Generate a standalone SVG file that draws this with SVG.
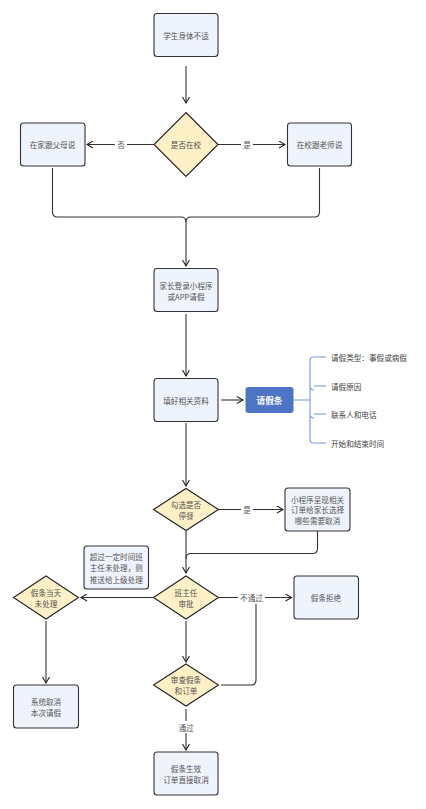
<svg xmlns="http://www.w3.org/2000/svg" width="426" height="809" viewBox="0 0 426 809">
<style>
text{font-family:"Noto Sans CJK SC","Noto Sans",sans-serif;font-size:7.6px;fill:#555;text-anchor:middle;dominant-baseline:central}
.n{fill:#eef3fd;stroke:#333;stroke-width:1.1}
.d{fill:#fdefc6;stroke:#222;stroke-width:1.1}
.c{fill:none;stroke:#333;stroke-width:1.1}
.b{fill:none;stroke:#6f9be0;stroke-width:1.1}
.lb{fill:#fff}
.lt{text-anchor:start;fill:#444}
</style>
<defs>
<marker id="a" viewBox="0 0 8 8" refX="7" refY="4" markerWidth="8" markerHeight="8" markerUnits="userSpaceOnUse" orient="auto">
<path d="M1,0.5 L7,4 L1,7.5" fill="none" stroke="#222" stroke-width="1.1"/>
</marker>
</defs>
<rect width="426" height="809" fill="#fff"/>
<g id="connectors">
<path class="c" d="M186,66 V103" marker-end="url(#a)"/>
<path class="c" d="M154,144.5 H87" marker-end="url(#a)"/>
<path class="c" d="M218,144.5 H285" marker-end="url(#a)"/>
<path class="c" d="M52.5,168 V212 Q52.5,217 57.5,217 H181 Q186,217 186,222"/>
<path class="c" d="M319.5,168 V212 Q319.5,217 314.5,217 H191 Q186,217 186,222 V266" marker-end="url(#a)"/>
<path class="c" d="M186,314 V376" marker-end="url(#a)"/>
<path class="c" d="M221,400 H243" marker-end="url(#a)"/>
<path class="c" d="M186,423 V486" marker-end="url(#a)"/>
<path class="c" d="M218,509.5 H283" marker-end="url(#a)"/>
<path class="c" d="M186,531 V573" marker-end="url(#a)"/>
<path class="c" d="M317.5,531 V548.5 Q317.5,553.5 312.5,553.5 H191 Q186,553.5 186,558.5"/>
<path class="c" d="M154,597.5 H81" marker-end="url(#a)"/>
<path class="c" d="M218,597.5 H291.5" marker-end="url(#a)"/>
<path class="c" d="M221,685 H251 Q256,685 256,680 V604"/>
<path class="c" d="M186,621 V662" marker-end="url(#a)"/>
<path class="c" d="M186,709 V750" marker-end="url(#a)"/>
<path class="c" d="M46,621 V683" marker-end="url(#a)"/>
<path class="b" d="M293,400 H310 M326,357 H314 Q310,357 310,361 V439 Q310,443 314,443 H326 M310,386 Q310,390 314,390 M310,414 Q310,418 314,418"/>
<path class="b" d="M314,386 H326 M314,414 H326"/>
<rect class="lb" x="115" y="139" width="12" height="11"/>
<text x="121" y="144.5">否</text>
<rect class="lb" x="241" y="139" width="12" height="11"/>
<text x="247" y="144.5">是</text>
<rect class="lb" x="241" y="504" width="12" height="11"/>
<text x="247" y="509.5">是</text>
<rect class="lb" x="238" y="592" width="27" height="11"/>
<text x="251.5" y="597.5">不通过</text>
<rect class="lb" x="176" y="721" width="20" height="12"/>
<text x="186" y="727">通过</text>
</g>
<g id="n1"><rect class="n" x="154" y="13.5" width="64" height="43" rx="3"/><text x="186" y="35">学生身体不适</text></g>
<g id="d1"><path class="d" d="M186,112.5 L218,144.5 L186,176.5 L154,144.5 Z"/><text x="186" y="144.5">是否在校</text></g>
<g id="n2"><rect class="n" x="20.5" y="123" width="64.5" height="43" rx="3"/><text x="52.5" y="144.5">在家跟父母说</text></g>
<g id="n3"><rect class="n" x="287.5" y="123" width="64" height="43" rx="3"/><text x="319.5" y="144.5">在校跟老师说</text></g>
<g id="n4"><rect class="n" x="154" y="268.5" width="64" height="43" rx="3"/><text x="186" y="285.5">家长登录小程序</text><text x="186" y="296.5">或APP请假</text></g>
<g id="n5"><rect class="n" x="154" y="378.5" width="64" height="43" rx="3"/><text x="186" y="400">填好相关资料</text></g>
<g id="n6"><rect x="245.5" y="387" width="48" height="26" rx="3" fill="#4e74c6"/><text x="269.5" y="400" style="fill:#fff;font-weight:bold;font-size:8.6px">请假条</text></g>
<g id="items">
<text class="lt" x="331" y="357">请假类型：事假或病假</text>
<text class="lt" x="331" y="386">请假原因</text>
<text class="lt" x="331" y="414.5">联系人和电话</text>
<text class="lt" x="331" y="443">开始和结束时间</text>
</g>
<g id="d2"><path class="d" d="M186,488.5 L218.5,509.5 L186,530.5 L153.5,509.5 Z"/><text x="186" y="504">勾选是否</text><text x="186" y="515">停餐</text></g>
<g id="n7"><rect class="n" x="285" y="488" width="65" height="43" rx="3"/><text x="317.5" y="499">小程序呈现相关</text><text x="317.5" y="509.7">订单给家长选择</text><text x="317.5" y="520.7">哪些需要取消</text></g>
<g id="note"><rect class="n" x="84" y="546" width="64.5" height="43" rx="3"/><text x="116.3" y="556.7">超过一定时间班</text><text x="116.3" y="567.7">主任未处理，则</text><text x="116.3" y="579">推送给上级处理</text></g>
<g id="d3"><path class="d" d="M186,576 L218.5,597.5 L186,619 L153.5,597.5 Z"/><text x="186" y="592">班主任</text><text x="186" y="603">审批</text></g>
<g id="d4"><path class="d" d="M46,576 L78.5,597.5 L46,619 L13.5,597.5 Z"/><text x="46" y="592">假条当天</text><text x="46" y="603">未处理</text></g>
<g id="n8"><rect class="n" x="294" y="576" width="64.5" height="43" rx="3"/><text x="326" y="597.5">假条拒绝</text></g>
<g id="d5"><path class="d" d="M186,664 L218.5,685 L186,706 L153.5,685 Z"/><text x="186" y="679.5">审查假条</text><text x="186" y="690.5">和订单</text></g>
<g id="n9"><rect class="n" x="13.5" y="685" width="65" height="43" rx="3"/><text x="46" y="701">系统取消</text><text x="46" y="712">本次请假</text></g>
<g id="n10"><rect class="n" x="154" y="752" width="64" height="43" rx="3"/><text x="186" y="768">假条生效</text><text x="186" y="779">订单直接取消</text></g>
</svg>
